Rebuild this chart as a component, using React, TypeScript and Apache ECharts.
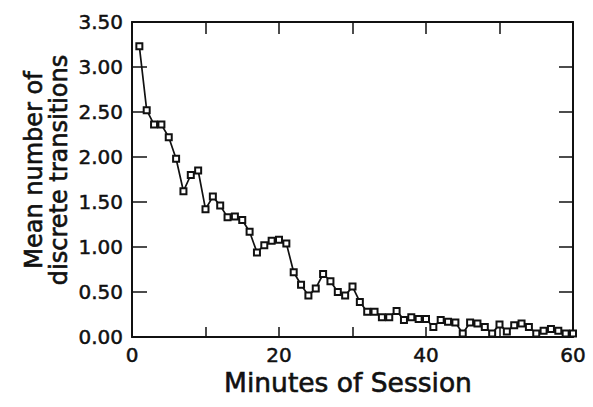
import React, { useEffect, useRef } from "react";
import * as echarts from "echarts";

// Minute of the session (x) and mean number of discrete transitions (y)
const minutes = [
  1, 2, 3, 4, 5, 6, 7, 8, 9, 10,
  11, 12, 13, 14, 15, 16, 17, 18, 19, 20,
  21, 22, 23, 24, 25, 26, 27, 28, 29, 30,
  31, 32, 33, 34, 35, 36, 37, 38, 39, 40,
  41, 42, 43, 44, 45, 46, 47, 48, 49, 50,
  51, 52, 53, 54, 55, 56, 57, 58, 59, 60,
];
const meanTransitions = [
  3.23, 2.52, 2.36, 2.36, 2.22, 1.98, 1.62, 1.8, 1.85, 1.42,
  1.56, 1.46, 1.33, 1.34, 1.3, 1.17, 0.94, 1.02, 1.07, 1.08,
  1.04, 0.72, 0.58, 0.46, 0.54, 0.7, 0.62, 0.5, 0.46, 0.56,
  0.39, 0.28, 0.28, 0.22, 0.22, 0.29, 0.19, 0.22, 0.2, 0.2,
  0.11, 0.19, 0.17, 0.16, 0.04, 0.16, 0.15, 0.11, 0.04, 0.14,
  0.06, 0.13, 0.15, 0.11, 0.04, 0.07, 0.09, 0.07, 0.04, 0.04,
];
const xLabeledTicks = [0, 20, 40, 60];
const xTitle = "Minutes of Session";
const yTitle = "Mean number of\ndiscrete transitions";

const INK = "#111";
const FONT = "DejaVu Sans";

export default function App() {
  const ref = useRef<HTMLDivElement>(null);
  useEffect(() => {
    if (!ref.current) return;
    const chart = echarts.init(ref.current, undefined, { renderer: "svg" });
    const axisLine = { show: true, onZero: false, lineStyle: { color: INK, width: 2 } };
    const labelStyle = {
      color: INK,
      fontFamily: FONT,
      fontSize: 20,
      textBorderColor: INK,
      textBorderWidth: 0.5,
    };
    chart.setOption({
      animation: false,
      backgroundColor: "#fff",
      grid: { left: 132, right: 20, top: 22, bottom: 70, containLabel: false, outerBoundsMode: "none" },
      xAxis: [
        {
          type: "value",
          min: 0,
          max: 60,
          interval: 10,
          position: "bottom",
          axisLine,
          axisTick: { show: true, inside: true, length: 10, lineStyle: { color: INK, width: 1.5 } },
          axisLabel: {
            ...labelStyle,
            margin: 8,
            formatter: (v: number) => (xLabeledTicks.indexOf(v) >= 0 ? String(v) : ""),
          },
          splitLine: { show: false },
        },
        {
          type: "value",
          min: 0,
          max: 60,
          interval: 10,
          position: "top",
          axisLine,
          axisTick: { show: true, inside: true, length: 12, lineStyle: { color: INK, width: 1.5 } },
          axisLabel: { show: false },
          splitLine: { show: false },
        },
      ],
      yAxis: [
        {
          type: "value",
          min: 0,
          max: 3.5,
          interval: 0.5,
          position: "left",
          axisLine,
          axisTick: { show: true, inside: true, length: 15, lineStyle: { color: INK, width: 1.5 } },
          axisLabel: { ...labelStyle, margin: 9, formatter: (v: number) => v.toFixed(2) },
          splitLine: { show: false },
        },
        {
          type: "value",
          min: 0,
          max: 3.5,
          interval: 0.5,
          position: "right",
          axisLine,
          axisTick: { show: true, inside: true, length: 14, lineStyle: { color: INK, width: 1.5 } },
          axisLabel: { show: false },
          splitLine: { show: false },
        },
      ],
      graphic: [
        {
          type: "text",
          x: 348,
          y: 382,
          style: {
            text: xTitle,
            fontFamily: FONT,
            fontSize: 26.5,
            fill: INK,
            stroke: INK,
            lineWidth: 0.6,
            align: "center",
            verticalAlign: "middle",
          },
        },
        {
          type: "text",
          x: 46,
          y: 170,
          rotation: Math.PI / 2,
          style: {
            text: yTitle,
            fontFamily: FONT,
            fontSize: 24,
            lineHeight: 25,
            fill: INK,
            stroke: INK,
            lineWidth: 0.6,
            align: "center",
            verticalAlign: "middle",
          },
        },
      ],
      series: [
        {
          type: "line",
          xAxisIndex: 0,
          yAxisIndex: 0,
          data: minutes.map((m, i) => [m, meanTransitions[i]]),
          symbol: "rect",
          symbolSize: 6,
          showAllSymbol: true,
          lineStyle: { color: INK, width: 1.7 },
          itemStyle: { color: "#fff", borderColor: INK, borderWidth: 2 },
        },
      ],
    });
    return () => chart.dispose();
  }, []);
  return (
    <div
      ref={ref}
      style={{ position: "fixed", left: 0, top: 0, width: 593, height: 407, background: "#fff" }}
    />
  );
}
